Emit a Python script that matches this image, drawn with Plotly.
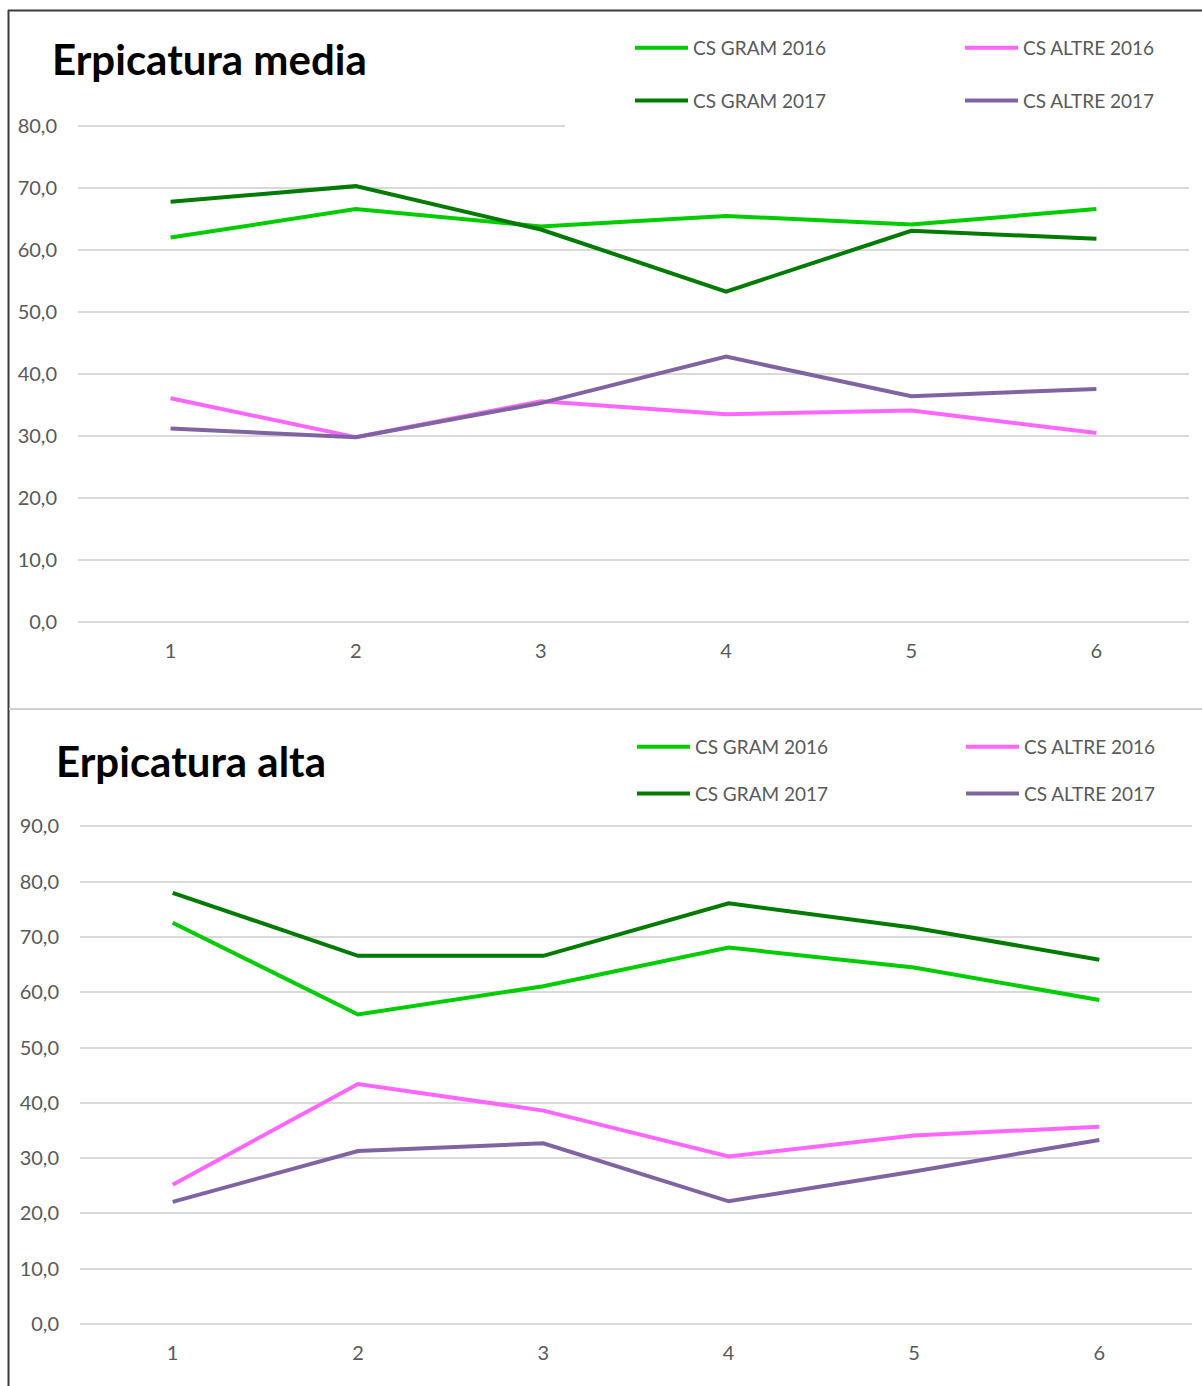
import plotly.graph_objects as go

W, H = 1202, 1386

# Categories on the x axis
categories = [1, 2, 3, 4, 5, 6]
tick_text = ["1", "2", "3", "4", "5", "6"]

# Erpicatura media
media_gram_2016 = [62.0, 66.6, 63.8, 65.5, 64.1, 66.6]
media_gram_2017 = [67.8, 70.3, 63.3, 53.3, 63.1, 61.8]
media_altre_2016 = [36.1, 29.8, 35.6, 33.5, 34.1, 30.5]
media_altre_2017 = [31.2, 29.8, 35.3, 42.8, 36.4, 37.6]
media_yticks = [0, 10, 20, 30, 40, 50, 60, 70, 80]

# Erpicatura alta
alta_gram_2016 = [72.6, 56.0, 61.1, 68.1, 64.5, 58.6]
alta_gram_2017 = [78.0, 66.6, 66.6, 76.1, 71.7, 65.9]
alta_altre_2016 = [25.2, 43.4, 38.6, 30.3, 34.1, 35.7]
alta_altre_2017 = [22.1, 31.3, 32.7, 22.2, 27.6, 33.3]
alta_yticks = [0, 10, 20, 30, 40, 50, 60, 70, 80, 90]

series_names = ["CS GRAM 2016", "CS GRAM 2017", "CS ALTRE 2016", "CS ALTRE 2017"]
series_colors = ["#00CC00", "#007A00", "#FF66FF", "#8064A2"]

FONT = "Lato"
GREY_TXT = "#595959"
GRID = "#D9D9D9"


def px_x(x):
    return x / W


def px_y(y):
    return 1 - y / H


fig = go.Figure()

panels = [
    dict(data=[media_gram_2016, media_gram_2017, media_altre_2016, media_altre_2017],
         xa="x", ya="y", legends=["legend", "legend2"]),
    dict(data=[alta_gram_2016, alta_gram_2017, alta_altre_2016, alta_altre_2017],
         xa="x2", ya="y2", legends=["legend3", "legend4"]),
]

for p_i, p in enumerate(panels):
    for s_i, (name, color, vals) in enumerate(zip(series_names, series_colors, p["data"])):
        fig.add_trace(go.Scatter(
            x=categories, y=vals, name=name, mode="lines",
            line=dict(color=color, width=4),
            xaxis=p["xa"], yaxis=p["ya"],
            legend=p["legends"][0] if s_i < 2 else p["legends"][1],
            legendgroup=f"p{p_i}s{s_i}",
            hovertemplate="%{y:.1f}<extra>" + name + "</extra>",
        ))

axis_common = dict(
    showline=False, zeroline=False, ticks="", automargin=False,
    tickfont=dict(family=FONT, size=20, color=GREY_TXT),
    fixedrange=True,
)

# value ranges are padded slightly so the first and last gridlines are drawn
PAD = 0.4
fig.update_layout(
    width=W, height=H,
    margin=dict(l=0, r=0, t=0, b=0, autoexpand=False),
    paper_bgcolor="white", plot_bgcolor="white",
    separators=",.",
    font=dict(family=FONT, color=GREY_TXT),
    xaxis=dict(domain=[px_x(78), px_x(1189)], range=[0.5, 6.5],
               tickvals=categories, ticktext=tick_text, showgrid=False,
               ticklabelstandoff=13, anchor="y", **axis_common),
    yaxis=dict(domain=[px_y(622 + PAD * 6.2), px_y(126 - PAD * 6.2)],
               range=[-PAD, 80 + PAD],
               tickvals=media_yticks, tickformat=".1f",
               showgrid=True, gridcolor=GRID, gridwidth=2,
               ticklabelstandoff=20, anchor="x", **axis_common),
    xaxis2=dict(domain=[px_x(80), px_x(1192)], range=[0.5, 6.5],
                tickvals=categories, ticktext=tick_text, showgrid=False,
                ticklabelstandoff=13, anchor="y2", **axis_common),
    yaxis2=dict(domain=[px_y(1324 + PAD * 5.53), px_y(826.5 - PAD * 5.53)],
                range=[-PAD, 90 + PAD],
                tickvals=alta_yticks, tickformat=".1f",
                showgrid=True, gridcolor=GRID, gridwidth=2,
                ticklabelstandoff=20, anchor="x2", **axis_common),
    showlegend=True,
)

legend_common = dict(
    orientation="v", xanchor="left", yanchor="top",
    bgcolor="rgba(0,0,0,0)", borderwidth=0,
    font=dict(family=FONT, size=19, color=GREY_TXT),
    traceorder="grouped", itemwidth=53, itemclick=False, itemdoubleclick=False,
)
fig.update_layout(
    legend=dict(x=px_x(630), y=px_y(29), tracegroupgap=25, **legend_common),
    legend2=dict(x=px_x(960), y=px_y(29), tracegroupgap=25, **legend_common),
    legend3=dict(x=px_x(632), y=px_y(728), tracegroupgap=19, **legend_common),
    legend4=dict(x=px_x(961), y=px_y(728), tracegroupgap=19, **legend_common),
)

# Panel titles
fig.add_annotation(text="<b>Erpicatura media</b>", xref="paper", yref="paper",
                   x=px_x(50), y=px_y(59), xanchor="left", yanchor="middle",
                   showarrow=False, font=dict(family=FONT, size=42, color="#000000"))
fig.add_annotation(text="<b>Erpicatura alta</b>", xref="paper", yref="paper",
                   x=px_x(54), y=px_y(761), xanchor="left", yanchor="middle",
                   showarrow=False, font=dict(family=FONT, size=42, color="#000000"))

# White background behind the upper legend hides the right part of the top gridline
fig.add_shape(type="rect", xref="paper", yref="paper",
              x0=px_x(565), x1=px_x(1195), y0=px_y(134), y1=px_y(118),
              fillcolor="white", line=dict(width=0), layer="above")

# Chart frames
fig.add_shape(type="line", xref="paper", yref="paper",
              x0=px_x(8.5), x1=px_x(8.5), y0=px_y(10), y1=0,
              line=dict(color="#3A3A3A", width=2))
fig.add_shape(type="line", xref="paper", yref="paper",
              x0=px_x(8), x1=1, y0=px_y(10.5), y1=px_y(10.5),
              line=dict(color="#3A3A3A", width=2))
fig.add_shape(type="line", xref="paper", yref="paper",
              x0=px_x(9), x1=1, y0=px_y(709), y1=px_y(709),
              line=dict(color="#D0D0D0", width=2))

fig.write_html("out.html")
